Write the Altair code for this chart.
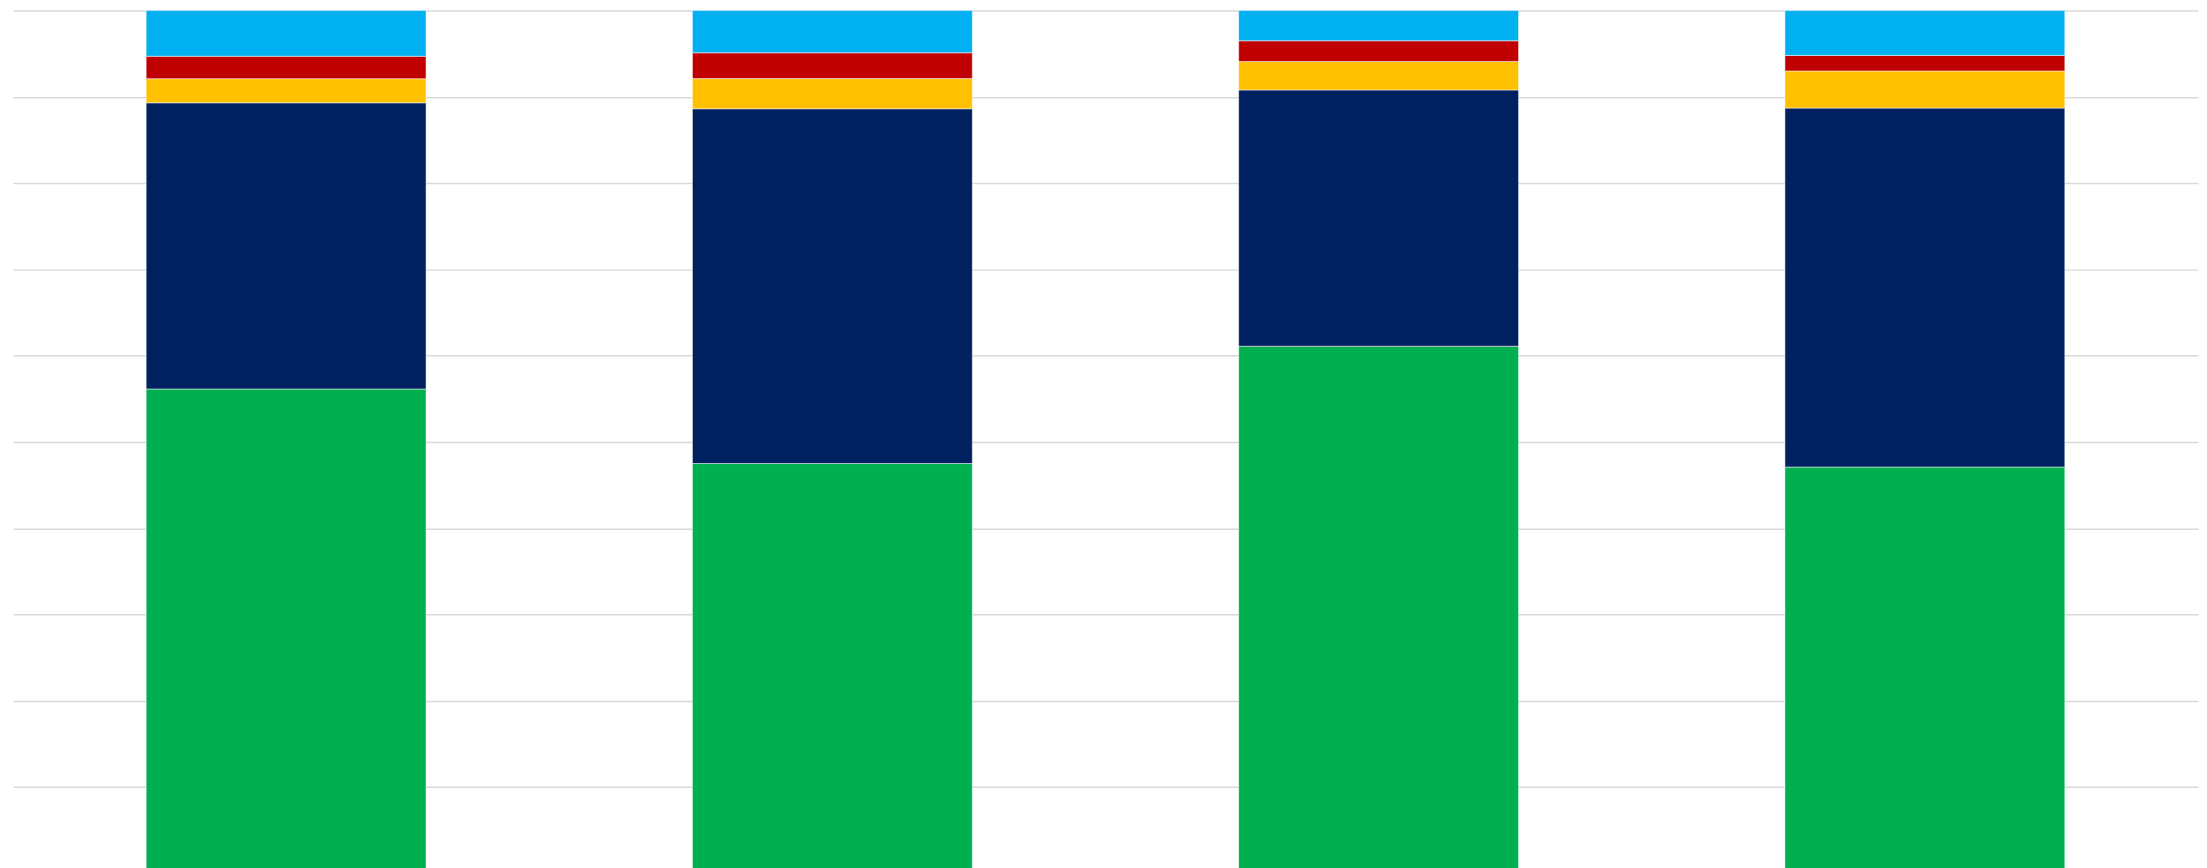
import altair as alt
import pandas as pd

# Data (percent shares; stacked to 100%)
categories = ["1", "2", "3", "4"]
series = ["Green", "Navy", "Yellow", "Red", "Cyan"]
colors = ["#00B050", "#002060", "#FFC000", "#C00000", "#00B0F0"]
green = [56.2, 47.6, 61.1, 47.1]
navy = [33.2, 41.2, 29.7, 41.6]
yellow = [2.8, 3.5, 3.3, 4.3]
red = [2.6, 3.0, 2.4, 1.8]
cyan = [5.3, 4.9, 3.5, 5.2]

values_by_series = [green, navy, yellow, red, cyan]
rows = []
for ci, cat in enumerate(categories):
    for si, name in enumerate(series):
        rows.append({"category": cat, "series": name, "value": values_by_series[si][ci], "idx": si})
df = pd.DataFrame(rows)

chart = alt.Chart(df).mark_bar(stroke="white", strokeWidth=0.5).encode(
    x=alt.X("category:N", sort=categories,
            scale=alt.Scale(paddingInner=0.4876, paddingOuter=0.2438),
            axis=None),
    y=alt.Y("value:Q", stack="normalize",
            scale=alt.Scale(domain=[0, 1], range=[866, 0], nice=False),
            axis=alt.Axis(values=[i / 10 for i in range(11)], grid=True,
                          gridColor="#d9d9d9", gridWidth=1.5,
                          labels=False, ticks=False, domain=False, title=None)),
    color=alt.Color("series:N", scale=alt.Scale(domain=series, range=colors), legend=None),
    order=alt.Order("idx:Q", sort="ascending"),
).properties(
    width=2193, height=860,
    background="white",
    padding={"left": 5, "top": 0, "right": 1, "bottom": 0},
).configure_view(strokeWidth=0, stroke="transparent")

chart.save("out.html", embed_options={"renderer": "svg", "actions": False})
